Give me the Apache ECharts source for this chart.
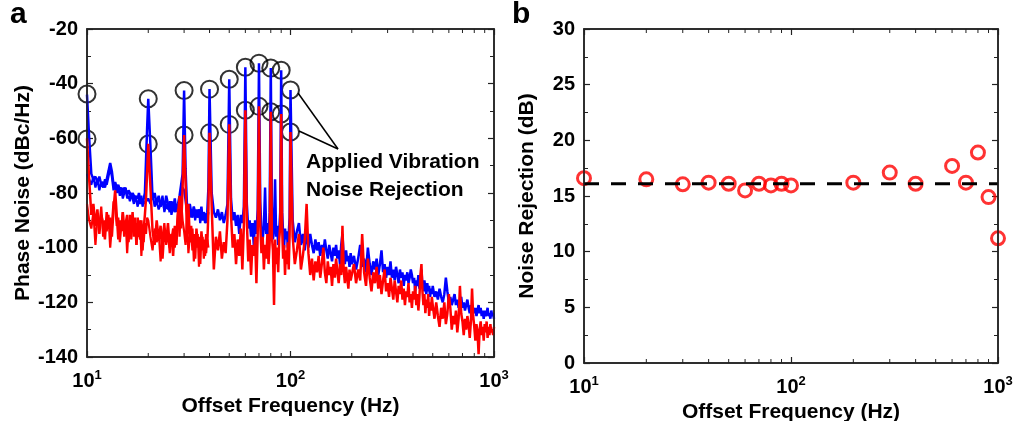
<!DOCTYPE html>
<html>
<head>
<meta charset="utf-8">
<script src="https://cdn.jsdelivr.net/npm/echarts@6/dist/echarts.min.js"></script>
<style>
html,body{margin:0;padding:0;background:#fff;}
#chart{width:1016px;height:421px;}
</style>
</head>
<body>
<div id="chart"></div>
<script>
// ---------- DATA ----------
// Offset frequency sample grid (Hz) for the phase-noise traces
const freqGrid = [
10,10.25,10.5,10.75,11,11.25,11.5,11.75,12,12.25,12.5,12.75,13,13.25,13.5,13.75,14,14.25,14.5,14.75,
15,15.25,15.5,15.75,16,16.25,16.5,16.75,17,17.25,17.5,17.75,18,18.25,18.5,18.75,19,19.25,19.5,19.75,
20,20.5,21,21.5,22,22.5,23,23.5,24,24.5,25,25.5,26,26.5,27,27.5,28,28.5,29,29.5,
30,30.5,31,31.5,32,32.5,33,33.5,34,34.5,35,35.5,36,36.5,37,37.5,38,38.5,39,39.5,
40,41,42,43,44,45,46,47,48,49,50,51,52,53,54,55,56,57,58,59,
60,61,62,63,64,65,66,67,68,69,70,71,72,73,74,75,76,77,78,79,
80,81,82,83,84,85,86,87,88,89,90,91,92,93,94,95,96,97,98,99,
100,102.5,105,107.5,110,112.5,115,117.5,120,122.5,125,127.5,130,132.5,135,137.5,140,142.5,145,147.5,
150,152.5,155,157.5,160,162.5,165,167.5,170,172.5,175,177.5,180,182.5,185,187.5,190,192.5,195,197.5,
200,205,210,215,220,225,230,235,240,245,250,255,260,265,270,275,280,285,290,295,
300,305,310,315,320,325,330,335,340,345,350,355,360,365,370,375,380,385,390,395,
400,405,410,415,420,425,430,435,440,445,450,455,460,465,470,475,480,485,490,495,
500,510,520,530,540,550,560,570,580,590,600,610,620,630,640,650,660,670,680,690,
700,710,720,730,740,750,760,770,780,790,800,810,820,830,840,850,860,870,880,890,
900,910,920,930,940,950,960,970,980,990,1000
];
// Phase noise with applied vibration (blue), dBc/Hz
const blueTrace1 = [
-44,-60,-73,-75,-74,-76,-74,-77,-76,-78,-75,-72,-69,-72,-77,-76,-78,-77,-79,-78,
-80,-78,-79,-81,-79,-80,-82,-80,-81,-83,-81,-82,-80,-83,-82,-84,-82,-80,-68,-56,
-45.5,-63,-82,-80,-84,-81,-85,-82,-86,-81,-84,-87,-83,-86,-82,-87,-84,-81,-77,-73,
-42.5,-71,-85,-88,-84,-87,-89,-85,-88,-86,-89,-86,-88,-85,-90,-87,-88,-91,-87,-78,
-42,-80,-87,-89,-86,-90,-87,-91,-88,-84,-38.4,-82,-90,-87,-92,-88,-95,-88,-91,-85,
-34,-84,-93,-90,-96,-91,-99,-90,-95,-86,-32.5,-83,-94,-97,-92,-78,-95,-91,-98,-87,
-34.3,-85,-97,-93,-75,-96,-92,-99,-94,-87,-35.1,-87,-95,-100,-93,-97,-94,-100,-95,-89,
-42.3,-90,-98,-94,-91,-99,-95,-101,-94,-100,-95,-99,-102,-97,-101,-98,-103,-99,-102,-97,
-101,-104,-99,-102,-105,-100,-103,-99,-104,-101,-106,-99,-95,-103,-106,-101,-105,-103,-107,-102,
-106,-103,-108,-104,-99,-107,-104,-109,-100,-106,-110,-105,-108,-104,-110,-106,-101,-109,-106,-111,
-107,-110,-105,-111,-108,-112,-107,-110,-113,-108,-111,-109,-114,-110,-112,-109,-113,-111,-108,-110,
-113,-111,-116,-112,-114,-110,-115,-113,-108,-114,-116,-112,-115,-117,-113,-116,-114,-118,-115,-117,
-114,-118,-116,-119,-115,-118,-120,-117,-111,-116,-120,-118,-121,-119,-117,-121,-119,-122,-120,-118,
-122,-120,-123,-121,-119,-122,-124,-121,-123,-122,-124,-122,-125,-123,-121,-124,-122,-125,-123,-126,
-123,-125,-124,-122,-125,-124,-126,-123,-125,-124,-126
];
const blueTrace2 = [
-73,-75,-77,-74,-78,-75,-79,-76,-78,-75,-77,-74,-71,-74,-79,-77,-80,-78,-81,-79,
-82,-80,-78,-82,-81,-83,-80,-82,-84,-81,-83,-85,-82,-84,-81,-85,-83,-84,-82,-83,
-82,-84,-80,-85,-83,-86,-84,-81,-87,-84,-86,-83,-88,-85,-87,-84,-86,-83,-80,-78,
-79,-83,-87,-84,-89,-86,-88,-85,-90,-87,-89,-86,-91,-88,-90,-87,-91,-88,-90,-87
];
// Phase noise with noise rejection (red), dBc/Hz
const redTrace1 = [
-60,-75,-88,-84,-92,-86,-95,-88,-91,-97,-87,-93,-89,-96,-86,-79,-88,-97,-90,-94,
-87,-96,-91,-88,-98,-90,-93,-87,-96,-91,-99,-89,-94,-97,-90,-101,-93,-88,-82,-72,
-62,-78,-94,-99,-90,-97,-92,-104,-93,-98,-91,-100,-95,-103,-92,-99,-88,-81,-93,-78,
-58.8,-76,-95,-84,-97,-92,-101,-95,-104,-93,-99,-96,-106,-94,-100,-97,-103,-95,-99,-86,
-58,-85,-108,-96,-101,-94,-104,-98,-102,-90,-54.9,-88,-100,-95,-106,-97,-103,-93,-108,-92,
-49.7,-90,-105,-97,-110,-99,-103,-96,-113,-95,-48.3,-92,-102,-96,-108,-99,-104,-95,-106,-98,
-50.3,-96,-101,-121,-97,-106,-100,-109,-97,-92,-51.1,-93,-104,-99,-110,-101,-106,-98,-108,-95,
-57.7,-96,-106,-101,-95,-108,-103,-97,-84,-102,-110,-104,-112,-105,-109,-103,-111,-106,-100,-109,
-113,-105,-110,-107,-114,-106,-111,-104,-109,-113,-106,-110,-92,-108,-113,-107,-111,-115,-108,-112,
-110,-106,-113,-108,-112,-95,-109,-114,-104,-111,-116,-109,-113,-107,-115,-110,-117,-112,-108,-116,
-113,-118,-111,-115,-119,-112,-116,-120,-114,-117,-112,-119,-115,-121,-116,-118,-113,-120,-117,-122,
-116,-119,-114,-121,-117,-123,-118,-110,-106,-116,-121,-117,-124,-119,-122,-117,-125,-120,-123,-118,
-121,-126,-120,-125,-129,-122,-126,-120,-128,-124,-117,-122,-130,-125,-128,-123,-131,-126,-114,-124,
-127,-132,-126,-130,-125,-128,-133,-127,-115,-125,-129,-134,-128,-131,-139,-130,-127,-132,-129,-134,
-128,-131,-127,-133,-129,-132,-128,-131,-130,-132,-129
];
const redTrace2 = [
-84,-90,-93,-87,-99,-89,-92,-85,-96,-90,-94,-88,-100,-92,-83,-85,-92,-89,-98,-92,
-87,-95,-90,-102,-93,-88,-97,-91,-94,-89,-99,-93,-96,-90,-103,-94,-98,-91,-95,-89,
-90,-96,-101,-93,-98,-94,-105,-96,-91,-99,-94,-102,-97,-93,-100,-95,-86,-96,-83,-90,
-94,-99,-89,-102,-96,-98,-93,-105,-97,-100,-95,-107,-98,-101,-96,-104,-99,-102,-97,-100
];
// Circled peaks at the applied vibration tones
const toneFreqs = [10,20,30,40,50,60,70,80,90,100];
const peakVibration = [-43.8,-45.5,-42.5,-42,-38.4,-34,-32.5,-34.3,-35.1,-42.3];
const peakRejection = [-60.2,-62.1,-58.8,-58,-54.9,-49.7,-48.3,-50.3,-51.1,-57.7];
// Panel b: noise rejection
const rejFreqs = [10,20,30,40,50,60,70,80,90,100,200,300,400,600,700,800,900,1000];
const rejValues = [16.6,16.5,16.05,16.2,16.1,15.5,16.1,15.95,16.1,15.95,16.2,17.1,16.1,17.7,16.2,18.9,14.9,11.2];
const rejMean = 16.1;
// Minor tick positions on the log axes
const minorTickFreqs = [20,30,40,50,60,70,80,90,200,300,400,500,600,700,800,900];

// ---------- CHART ----------
const FONT = '"Liberation Sans", Arial, Helvetica, sans-serif';
const BLUE = '#0000ff', RED = '#ff0000';
const pairs = (xs, ys) => ys.map((v, i) => [xs[i], v]);

const chart = echarts.init(document.getElementById('chart'));

function supLabel() {
  return {
    formatter: v => '{b|10}{s|' + Math.round(Math.log10(v)) + '}',
    rich: {
      b: {fontSize: 20, fontWeight: 'bold', fontFamily: FONT, color: '#000', lineHeight: 24},
      s: {fontSize: 13, fontWeight: 'bold', fontFamily: FONT, color: '#000', verticalAlign: 'top', lineHeight: 14}
    },
    margin: 12
  };
}
function axLine() { return {show: true, onZero: false, lineStyle: {color: '#222', width: 1.5}}; }
function tick() { return {show: true, inside: true, length: 6, lineStyle: {color: '#222', width: 1.2}}; }
function nameStyle() { return {fontFamily: FONT, fontSize: 21, fontWeight: 'bold', color: '#000'}; }

function logX(grid, pos, showLabel, name) {
  const ax = {
    type: 'log', logBase: 10, min: 10, max: 1000, gridIndex: grid, position: pos,
    axisLine: axLine(), axisTick: tick(), splitLine: {show: false},
    axisLabel: showLabel ? supLabel() : {show: false}
  };
  if (name) { ax.name = name; ax.nameLocation = 'middle'; ax.nameGap = 31; ax.nameTextStyle = nameStyle(); }
  return ax;
}
function valY(grid, pos, min, max, interval, showLabel, name, gap) {
  const ax = {
    type: 'value', min, max, interval, gridIndex: grid, position: pos,
    axisLine: axLine(), axisTick: tick(),
    minorTick: {show: true, splitNumber: 2, length: 4},
    splitLine: {show: false},
    axisLabel: showLabel ? {fontFamily: FONT, fontSize: 20, fontWeight: 'bold', color: '#000', margin: 9} : {show: false}
  };
  if (name) { ax.name = name; ax.nameLocation = 'middle'; ax.nameGap = gap; ax.nameRotate = 90; ax.nameTextStyle = nameStyle(); }
  return ax;
}
function trace(data, color, width) {
  return {
    type: 'line', xAxisIndex: 0, yAxisIndex: 0, data: pairs(freqGrid, data),
    showSymbol: false, symbol: 'none',
    lineStyle: {color, width}
  };
}

const baseGraphics = [
  {type: 'text', left: 10, top: 0, style: {text: 'a', font: 'bold 30px ' + FONT, fill: '#000'}},
  {type: 'text', left: 512, top: 0, style: {text: 'b', font: 'bold 30px ' + FONT, fill: '#000'}},
  {type: 'line', shape: {x1: 298, y1: 93, x2: 338, y2: 149}, style: {stroke: '#000', lineWidth: 1.5}},
  {type: 'line', shape: {x1: 299, y1: 131, x2: 338, y2: 149}, style: {stroke: '#000', lineWidth: 1.5}},
  {type: 'text', left: 306, top: 152, style: {text: 'Applied Vibration', font: 'bold 21px ' + FONT, fill: '#000'}},
  {type: 'text', left: 306, top: 180, style: {text: 'Noise Rejection', font: 'bold 21px ' + FONT, fill: '#000'}}
];

const option = {
  animation: false,
  grid: [
    {left: 87, top: 29, width: 407, height: 328, outerBoundsMode: 'none', containLabel: false},
    {left: 584, top: 29, width: 414, height: 334, outerBoundsMode: 'none', containLabel: false}
  ],
  xAxis: [
    logX(0, 'bottom', true, 'Offset Frequency (Hz)'),
    logX(0, 'top', false),
    logX(1, 'bottom', true, 'Offset Frequency (Hz)'),
    logX(1, 'top', false)
  ],
  yAxis: [
    valY(0, 'left', -140, -20, 20, true, 'Phase Noise (dBc/Hz)', 52),
    valY(0, 'right', -140, -20, 20, false),
    valY(1, 'left', 0, 30, 5, true, 'Noise Rejection (dB)', 46),
    valY(1, 'right', 0, 30, 5, false)
  ],
  series: [
    trace(blueTrace2, BLUE, 2.2),
    trace(blueTrace1, BLUE, 2.5),
    trace(redTrace2, RED, 2.2),
    trace(redTrace1, RED, 2.5),
    {
      type: 'scatter', xAxisIndex: 0, yAxisIndex: 0,
      data: pairs(toneFreqs, peakVibration).concat(pairs(toneFreqs, peakRejection)),
      symbol: 'circle', symbolSize: 17,
      itemStyle: {color: 'rgba(0,0,0,0)', borderColor: '#000', borderWidth: 2}
    },
    {
      type: 'line', xAxisIndex: 2, yAxisIndex: 2,
      data: [[10, rejMean], [1000, rejMean]], symbol: 'none',
      lineStyle: {color: '#000', width: 3, type: [15, 12]}
    },
    {
      type: 'scatter', xAxisIndex: 2, yAxisIndex: 2,
      data: pairs(rejFreqs, rejValues),
      symbol: 'circle', symbolSize: 13,
      itemStyle: {color: 'rgba(0,0,0,0)', borderColor: RED, borderWidth: 3}
    }
  ],
  graphic: baseGraphics
};
chart.setOption(option);

// Frame and minor ticks of the log axes (2..9 x decade), placed through the axes' own scales
try {
  const extra = [];
  [[0, -140, -20], [1, 0, 30]].forEach(([gi, ymin, ymax]) => {
    const c0 = chart.convertToPixel({gridIndex: gi}, [10, ymin]);
    const c1 = chart.convertToPixel({gridIndex: gi}, [1000, ymax]);
    if (c0 && c1) {
      extra.push({type: 'rect', silent: true, z: 10,
        shape: {x: c0[0], y: c1[1], width: c1[0] - c0[0], height: c0[1] - c1[1]},
        style: {fill: null, stroke: '#222', lineWidth: 1.5}});
    }
    minorTickFreqs.forEach(f => {
      const pb = chart.convertToPixel({gridIndex: gi}, [f, ymin]);
      const pt = chart.convertToPixel({gridIndex: gi}, [f, ymax]);
      if (!pb || !pt) return;
      extra.push({type: 'line', silent: true, z: 10, shape: {x1: pb[0], y1: pb[1], x2: pb[0], y2: pb[1] - 4}, style: {stroke: '#222', lineWidth: 1}});
      extra.push({type: 'line', silent: true, z: 10, shape: {x1: pt[0], y1: pt[1], x2: pt[0], y2: pt[1] + 4}, style: {stroke: '#222', lineWidth: 1}});
    });
  });
  chart.setOption({graphic: baseGraphics.concat(extra)});
} catch (e) { /* keep chart without extra frame */ }
</script>
</body>
</html>
